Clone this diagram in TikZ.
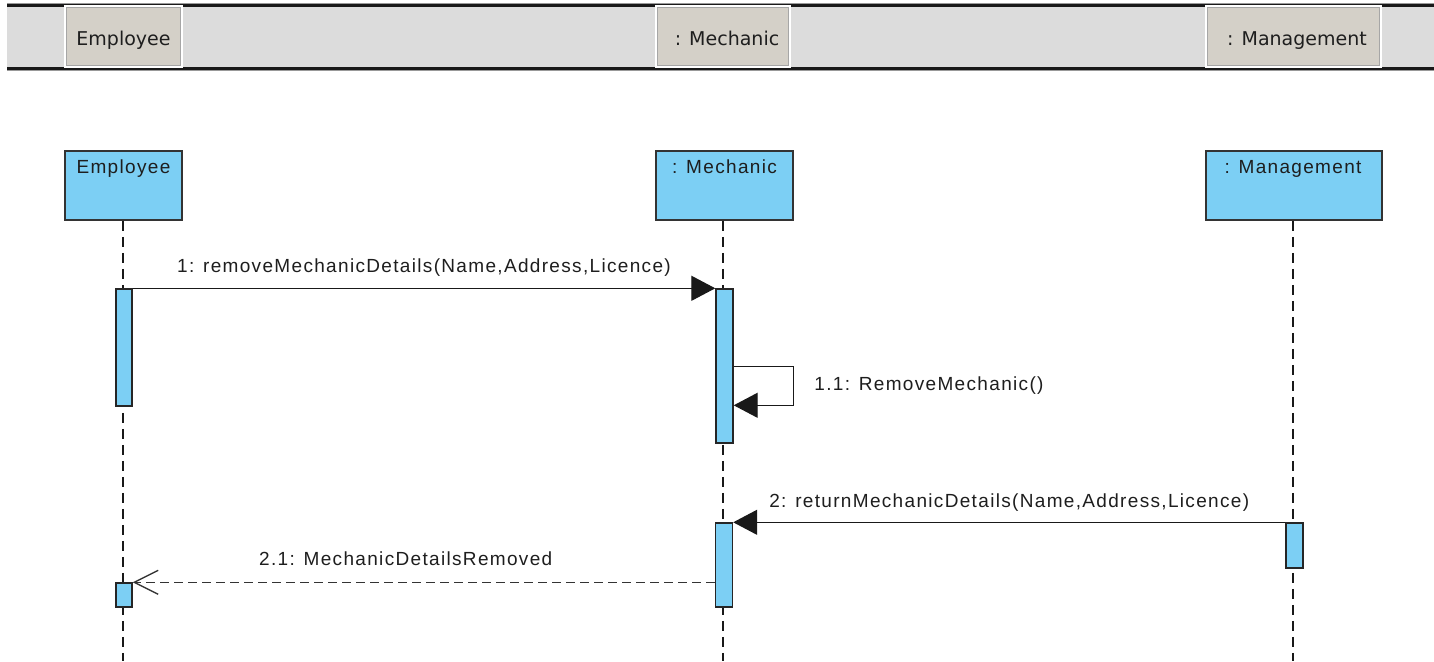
\documentclass[tikz,border=0pt]{standalone}
\usepackage{fontspec}
\usetikzlibrary{arrows.meta,calc}
\newfontfamily\lblfont[LetterSpace=7]{Liberation Sans}
\newfontfamily\hdrfont{DejaVu Sans}
\definecolor{lifeblue}{HTML}{7CCFF4}
\definecolor{bargray}{HTML}{DCDCDC}
\definecolor{tabgray}{HTML}{D4D0C8}
\definecolor{txtgray}{HTML}{1E1E1E}
\begin{document}
\begin{tikzpicture}[x=1pt,y=-1pt,
  tabbox/.style={fill=tabgray, draw=white, line width=1.5pt, inner sep=0pt, minimum height=61pt},
  tabinner/.style={draw=black!35, line width=1pt},
  tabtext/.style={font=\hdrfont\fontsize{19}{22}\selectfont, text=txtgray, anchor=base, inner sep=0pt},
  headbox/.style={fill=lifeblue, draw=black!80, line width=1.5pt, inner sep=0pt, minimum height=69pt},
  headtext/.style={font=\lblfont\fontsize{19}{22}\selectfont, text=txtgray, anchor=base, inner sep=0pt},
  lifeline/.style={draw=black!90, line width=1.5pt, dash pattern=on 10pt off 6pt},
  actbox/.style={fill=lifeblue, draw=black!85, line width=1.4pt, inner sep=0pt},
  msg/.style={draw=black!90, line width=1.35pt, -{Triangle[length=24pt,width=25pt]}},
  ret/.style={draw=black!80, line width=1.35pt, dash pattern=on 9pt off 5pt, -{Straight Barb[length=24pt,width=24pt]}},
  lbl/.style={font=\lblfont\fontsize{19}{22}\selectfont, text=txtgray, inner sep=0pt}
]
\useasboundingbox[fill=white] (0,0) rectangle (1434,661);

% top header bar
\fill[bargray] (7,5) rectangle (1434,68);
\draw[black!40, line width=1pt] (7,3.5) -- (1434,3.5);
\draw[black!90, line width=3pt] (7,5.8) -- (1434,5.8);
\draw[black!90, line width=3pt] (7,68.3) -- (1434,68.3);
\draw[black!40, line width=1pt] (7,70.5) -- (1434,70.5);

\node[tabbox, minimum width=117pt] (tE) at (123.5,36.5) {};
\node[tabbox, minimum width=134pt] (tM) at (723,36.5) {};
\node[tabbox, minimum width=175pt] (tG) at (1293.5,36.5) {};
\foreach \t in {tE,tM,tG}
  \draw[tabinner] ($(\t.north west)+(2,2)$) rectangle ($(\t.south east)+(-2,-2)$);
\node[tabtext] (tEt) at (123.5,46) {Employee};
\node[tabtext] (tMt) at (727,46) {: Mechanic};
\node[tabtext] (tGt) at (1297,46) {: Management};

% lifeline heads
\node[headbox, minimum width=117pt] (hE) at (123.5,185.5) {};
\node[headbox, minimum width=137pt] (hM) at (724.5,185.5) {};
\node[headbox, minimum width=176pt] (hG) at (1294,185.5) {};
\node[headtext] (hEt) at ($(hE.north)+(0,23)$) {Employee};
\node[headtext] (hMt) at ($(hM.north)+(0,23)$) {: Mechanic};
\node[headtext] (hGt) at ($(hG.north)+(-1,23)$) {: Management};

% lifelines
\coordinate (eE) at (123,661);
\coordinate (eM) at (723,661);
\coordinate (eG) at (1293,661);
\draw[lifeline] (hE.south -| eE) -- (eE);
\draw[lifeline] (hM.south -| eM) -- (eM);
\draw[lifeline] (hG.south -| eG) -- (eG);

% activations
\node[actbox, minimum width=16pt, minimum height=117pt] (e1) at (124,347.5) {};
\node[actbox, minimum width=17pt, minimum height=154pt] (m1) at (724.5,366) {};
\node[actbox, minimum width=17pt, minimum height=84pt] (m2) at (724,565) {};
\node[actbox, minimum width=17pt, minimum height=45pt] (g1) at (1294.5,545.5) {};
\node[actbox, minimum width=16pt, minimum height=24pt] (e2) at (124,595) {};

% messages
\draw[msg] (e1.north east) -- node[lbl, anchor=base, yshift=16pt] (l1) {1: removeMechanicDetails(Name,Address,Licence)} (m1.north west);

\coordinate (s1) at ($(m1.north east)+(0,78)$);
\coordinate (s2) at ($(m1.north east)+(60,78)$);
\coordinate (s3) at ($(m1.north east)+(60,117)$);
\coordinate (s4) at ($(m1.north east)+(0,117)$);
\draw[msg] (s1) -- (s2) -- node[lbl, anchor=base west, xshift=20pt, yshift=-4.5pt] (l11) {1.1: RemoveMechanic()} (s3) -- (s4);

\draw[msg] (g1.north west) -- node[lbl, anchor=base, yshift=15pt] (l2) {2: returnMechanicDetails(Name,Address,Licence)} (m2.north east);

\draw[ret] (m2.west |- e2.north) -- node[lbl, anchor=base, yshift=17pt, xshift=-18pt] (l21) {2.1: MechanicDetailsRemoved} (e2.north east);
\end{tikzpicture}
\end{document}
